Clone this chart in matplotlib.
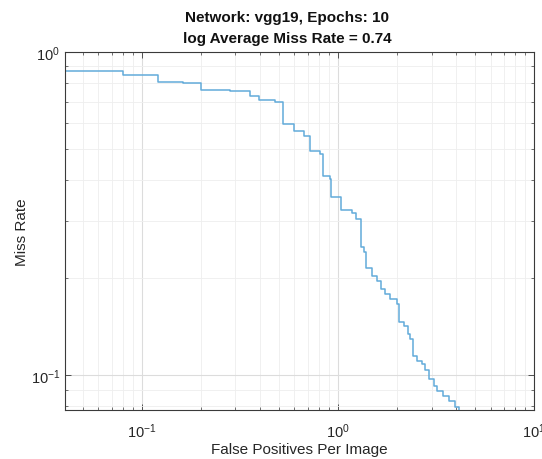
import matplotlib
matplotlib.use("Agg")
import matplotlib.pyplot as plt
from matplotlib.ticker import LogLocator, NullFormatter

plt.rcParams['font.family'] = ['Liberation Sans', 'DejaVu Sans']
plt.rcParams['mathtext.fontset'] = 'custom'
plt.rcParams['mathtext.rm'] = 'Liberation Sans'
plt.rcParams['mathtext.it'] = 'Liberation Sans:italic'
plt.rcParams['mathtext.bf'] = 'Liberation Sans:bold'

title_lines = ["Network: vgg19, Epochs: 10", "log Average Miss Rate = 0.74"]
xlabel = "False Positives Per Image"
ylabel = "Miss Rate"

fppi = [0.035, 0.0800, 0.1201, 0.1624, 0.2007, 0.2822, 0.3569, 0.3967, 0.4787,
        0.5218, 0.5936, 0.673, 0.716, 0.812, 0.838, 0.913, 0.921, 1.036, 1.179,
        1.240, 1.310, 1.351, 1.394, 1.491, 1.581, 1.664, 1.743, 1.849, 2.000,
        2.038, 2.161, 2.276, 2.338, 2.402, 2.530, 2.683, 2.789, 2.899, 3.074,
        3.200, 3.418, 3.698, 3.968, 4.124, 4.6]
miss_rate = [0.870, 0.849, 0.808, 0.803, 0.763, 0.756, 0.728, 0.710, 0.700,
             0.5974, 0.570, 0.5497, 0.494, 0.4826, 0.4118, 0.4040, 0.3545, 0.3245,
             0.3181, 0.3038, 0.2483, 0.2396, 0.2138, 0.2028, 0.1957, 0.1845, 0.1780,
             0.1718, 0.1658, 0.1462, 0.1415, 0.1339, 0.1292, 0.1147, 0.1107, 0.1081,
             0.1038, 0.0972, 0.0927, 0.0894, 0.0863, 0.0833, 0.0795, 0.0750, 0.0700]

xlim = (0.0405, 10)
ylim = (0.078, 1.0)

fig = plt.figure(figsize=(5.42, 4.6), dpi=100)
ax = fig.add_axes([65/542, 49/460, 469/542, 358.3/460])

ax.step(fppi, miss_rate, where='post', color='#62abda', linewidth=1.1)

ax.set_xscale('log')
ax.set_yscale('log')
ax.set_xlim(*xlim)
ax.set_ylim(*ylim)

ax.xaxis.set_major_locator(LogLocator(base=10, numticks=10))
ax.yaxis.set_major_locator(LogLocator(base=10, numticks=10))
ax.xaxis.set_minor_locator(LogLocator(base=10, subs=range(2, 10), numticks=20))
ax.yaxis.set_minor_locator(LogLocator(base=10, subs=range(2, 10), numticks=20))
ax.xaxis.set_minor_formatter(NullFormatter())
ax.yaxis.set_minor_formatter(NullFormatter())

ax.grid(True, which='major', color='#dcdcdc', linewidth=0.8)
ax.grid(True, which='minor', color='#eeeeee', linewidth=0.6)
ax.set_axisbelow(True)

for s in ax.spines.values():
    s.set_color('#3a3a3a')
    s.set_linewidth(0.8)

ax.tick_params(which='both', direction='in', top=True, right=True, colors='#3a3a3a',
               labelcolor='#262626', labelsize=10.5)
ax.tick_params(which='major', length=4, width=0.6)
ax.tick_params(which='minor', length=2.5, width=0.5)
ax.tick_params(axis='x', pad=8)

ax.set_xlabel(xlabel, fontsize=11, color='#262626', labelpad=2)
ax.set_ylabel(ylabel, fontsize=11, color='#262626', labelpad=1)
ax.set_title("\n".join(title_lines), fontsize=11, fontweight='bold', color='#111111',
             pad=7, linespacing=1.6, x=(287 - 65) / 469)

fig.savefig("out.png", dpi=100, facecolor='white')
